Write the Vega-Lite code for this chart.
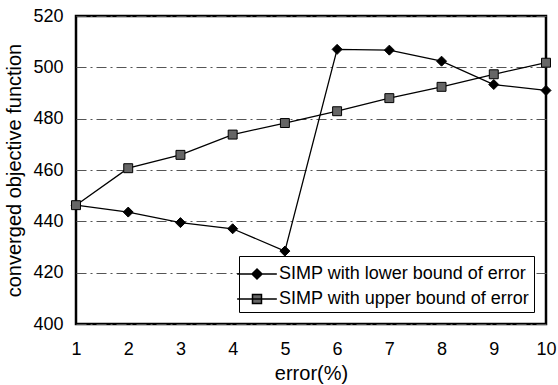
{
  "$schema": "https://vega.github.io/schema/vega-lite/v6.json",
  "width": 558,
  "height": 385,
  "autosize": {"type": "fit", "contains": "padding"},
  "padding": {"left": 4, "top": 7, "right": 1, "bottom": 2},
  "background": "white",
  "config": {
    "font": "Liberation Sans",
    "view": {"stroke": "black", "strokeWidth": 2.5}
  },
  "data": {
    "values": [
      {"err": 1, "val": 446.3, "series": "SIMP with lower bound of error"},
      {"err": 2, "val": 443.6, "series": "SIMP with lower bound of error"},
      {"err": 3, "val": 439.5, "series": "SIMP with lower bound of error"},
      {"err": 4, "val": 437.1, "series": "SIMP with lower bound of error"},
      {"err": 5, "val": 428.4, "series": "SIMP with lower bound of error"},
      {"err": 6, "val": 507.0, "series": "SIMP with lower bound of error"},
      {"err": 7, "val": 506.7, "series": "SIMP with lower bound of error"},
      {"err": 8, "val": 502.4, "series": "SIMP with lower bound of error"},
      {"err": 9, "val": 493.3, "series": "SIMP with lower bound of error"},
      {"err": 10, "val": 491.0, "series": "SIMP with lower bound of error"},
      {"err": 1, "val": 446.3, "series": "SIMP with upper bound of error"},
      {"err": 2, "val": 460.7, "series": "SIMP with upper bound of error"},
      {"err": 3, "val": 465.9, "series": "SIMP with upper bound of error"},
      {"err": 4, "val": 473.8, "series": "SIMP with upper bound of error"},
      {"err": 5, "val": 478.3, "series": "SIMP with upper bound of error"},
      {"err": 6, "val": 482.9, "series": "SIMP with upper bound of error"},
      {"err": 7, "val": 488.0, "series": "SIMP with upper bound of error"},
      {"err": 8, "val": 492.4, "series": "SIMP with upper bound of error"},
      {"err": 9, "val": 497.3, "series": "SIMP with upper bound of error"},
      {"err": 10, "val": 501.8, "series": "SIMP with upper bound of error"}
    ]
  },
  "encoding": {
    "x": {"field": "err", "type": "quantitative", "scale": {"domain": [1, 10], "nice": false}, "axis": {"title": "error(%)", "values": [1,2,3,4,5,6,7,8,9,10], "grid": false, "domain": false, "ticks": false, "labelFontSize": 18, "titleFontSize": 20, "titleFontWeight": "normal", "labelColor": "black", "titleColor": "black", "labelPadding": 16, "titlePadding": 5, "labelOverlap": false, "labelFlush": false}},
    "y": {"field": "val", "type": "quantitative", "scale": {"domain": [400, 520], "nice": false, "zero": false}, "axis": {"title": "converged objective function", "values": [400,420,440,460,480,500,520], "grid": true, "gridColor": "#555", "gridDash": [10, 4, 2, 4], "gridWidth": 1, "domain": false, "ticks": false, "labelFontSize": 18, "titleFontSize": 20, "titleFontWeight": "normal", "labelColor": "black", "titleColor": "black", "labelPadding": 13, "titlePadding": 8, "labelOverlap": false, "labelFlush": false}}
  },
  "layer": [
    {
      "mark": {"type": "line", "color": "black", "strokeWidth": 1.3},
      "encoding": {"detail": {"field": "series"}}
    },
    {
      "transform": [{"filter": "datum.series === 'SIMP with lower bound of error'"}],
      "mark": {"type": "point", "shape": "diamond", "filled": true, "fill": "black", "stroke": "black", "strokeWidth": 1, "opacity": 1, "size": 100}
    },
    {
      "transform": [{"filter": "datum.series === 'SIMP with upper bound of error'"}],
      "mark": {"type": "point", "shape": "square", "filled": true, "fill": "#666", "stroke": "black", "strokeWidth": 1, "opacity": 1, "size": 80}
    },
    {
      "mark": {"type": "point", "filled": true, "stroke": "black", "strokeWidth": 0, "opacity": 1},
      "encoding": {
        "shape": {"field": "series", "type": "nominal", "scale": {"range": ["M-1.5,0H1.5M0,-0.38L0.38,0L0,0.38L-0.38,0Z", "M-1.5,0H1.5M-0.34,-0.34H0.34V0.34H-0.34Z"]}, "legend": {"title": null, "orient": "bottom-right", "offset": 12, "labelFontSize": 18, "labelFont": "Liberation Sans", "labelColor": "black", "strokeColor": "black", "fillColor": "white", "padding": 4, "symbolSize": 700, "labelLimit": 400, "rowPadding": 2, "labelOffset": 8, "encode": {"symbols": {"update": {"stroke": {"value": "black"}, "strokeWidth": {"value": 1.3}, "opacity": {"value": 1}, "fillOpacity": {"value": 1}, "strokeOpacity": {"value": 1}, "size": {"value": 700}, "xc": {"value": 21}}}}}},
        "fill": {"field": "series", "type": "nominal", "scale": {"range": ["black", "#666"]}},
        "size": {"value": 0}
      }
    }
  ]
}
